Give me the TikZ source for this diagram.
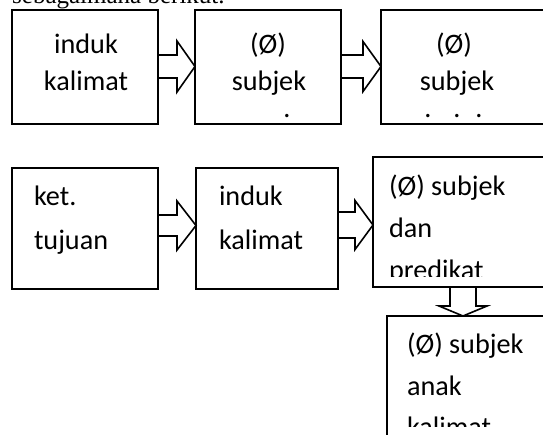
\documentclass[tikz,border=0pt]{standalone}
\usepackage{fontspec}
\setmainfont{Carlito}
\newfontfamily\headfont{Liberation Serif}
\usetikzlibrary{calc}
\tikzset{
  box/.style={draw, line width=1.6pt, inner sep=0pt, outer sep=0pt},
  barrow/.style={draw, line width=1.6pt, line join=miter},
  txt/.style={font=\fontsize{28.2}{34}\selectfont, inner sep=0pt, outer sep=0pt},
}
\newcommand\rarr[6]{%
  \draw[barrow] let \p1=(#1), \p2=(#2), \p3=(0,#3) in
  (\x1,{\y3+#4pt}) -- ({\x2-#6pt},{\y3+#4pt}) -- ({\x2-#6pt},{\y3+#5pt}) -- (\x2,\y3)
  -- ({\x2-#6pt},{\y3-#5pt}) -- ({\x2-#6pt},{\y3-#4pt}) -- (\x1,{\y3-#4pt});}
\newcommand\darr[6]{%
  \draw[barrow] let \p1=(#1), \p2=(#2), \p3=(#3,0) in
  ({\x3-#4pt},\y1) -- ({\x3-#4pt},{\y2+#6pt}) -- ({\x3-#5pt},{\y2+#6pt}) -- (\x3,\y2)
  -- ({\x3+#5pt},{\y2+#6pt}) -- ({\x3+#4pt},{\y2+#6pt}) -- ({\x3+#4pt},\y1);}
\begin{document}
\begin{tikzpicture}[x=1pt,y=-1pt]
\useasboundingbox (0,0) rectangle (543,434);
\clip (0,0) rectangle (543,434);
\fill[white] (0,0) rectangle (543,434);
% heading (cut off at top)
\node[inner sep=0pt, anchor=base west, font=\headfont\fontsize{25}{30}\selectfont] (head) at (12,3) {sebagaimana berikut.};
% top row boxes
\node[box, minimum width=146pt, minimum height=114pt] (t1) at (85,67) {};
\node[box, minimum width=146pt, minimum height=114pt] (t2) at (268,67) {};
\node[box, minimum width=179pt, minimum height=114pt] (t3) at (470.5,67) {};
% top row texts
\node[txt, anchor=base] (t1a) at (86,53) {induk};
\node[txt, anchor=base] (t1b) at (86,90) {kalimat};
\node[txt, anchor=base] (t2a) at (268,53) {(Ø)};
\node[txt, anchor=base] (t2b) at (269,90) {subjek};
\node[txt, anchor=base] (t2c) at (287,117) {.};
\node[txt, anchor=base] (t3a) at (454,53) {(Ø)};
\node[txt, anchor=base] (t3b) at (457,90) {subjek};
\node[txt, anchor=base] (t3c) at (428,117) {.};
\node[txt, anchor=base] (t3d) at (457,117) {.};
\node[txt, anchor=base] (t3e) at (479,117) {.};
% top row arrows
\rarr{t1.east}{t2.west}{66.5}{11.5}{25.5}{18}
\rarr{t2.east}{t3.west}{66.5}{11.5}{25}{18}
% bottom row boxes
\node[box, minimum width=146pt, minimum height=121pt] (b1) at (85,228.5) {};
\node[box, minimum width=142pt, minimum height=121pt] (b2) at (267,228.5) {};
\node[box, minimum width=187pt, minimum height=130pt] (b3) at (466.5,222) {};
\node[box, minimum width=173pt, minimum height=120pt] (b4) at (473.5,376) {};
% bottom row texts
\node[txt, anchor=base west] (b1a) at (34,205) {ket.};
\node[txt, anchor=base west] (b1b) at (34,249) {tujuan};
\node[txt, anchor=base west] (b2a) at (219,205) {induk};
\node[txt, anchor=base west] (b2b) at (219,249) {kalimat};
\begin{scope}
\clip (374,158) rectangle (560,276);
\node[txt, anchor=base west] (b3a) at (389,195) {(Ø) subjek};
\node[txt, anchor=base west] (b3b) at (389,237) {dan};
\node[txt, anchor=base west] (b3c) at (389,279) {predikat};
\end{scope}
\begin{scope}
\clip (388,317) rectangle (560,426);
\node[txt, anchor=base west] (b4a) at (407,353) {(Ø) subjek};
\node[txt, anchor=base west] (b4b) at (407,395) {anak};
\node[txt, anchor=base west] (b4c) at (407,436) {kalimat};
\end{scope}
% bottom row arrows
\rarr{b1.east}{b2.west}{225.5}{10.5}{24.5}{19}
\rarr{b2.east}{b3.west}{225}{13}{24.5}{18}
\darr{b3.south}{b4.north}{463}{13}{24}{10}
\end{tikzpicture}
\end{document}
